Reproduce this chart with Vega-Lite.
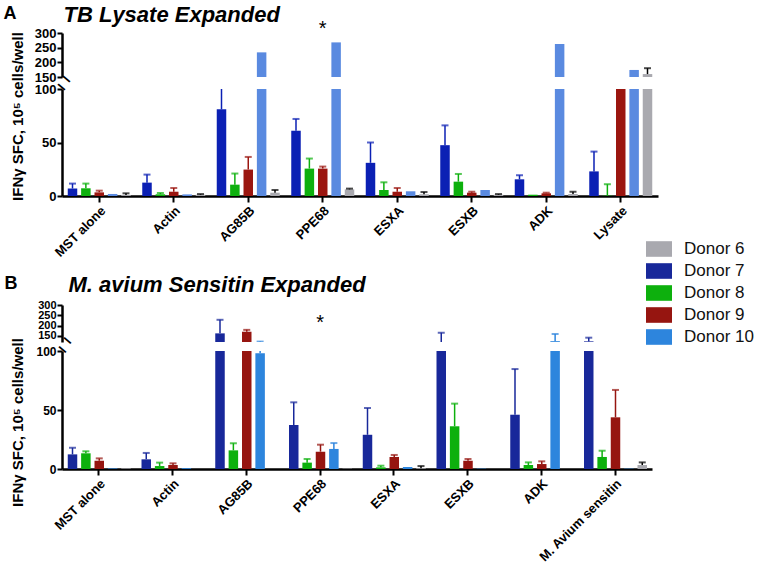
{
  "$schema": "https://vega.github.io/schema/vega-lite/v6.json",
  "background": "white",
  "padding": {"left": 3, "top": 3, "right": 0, "bottom": 0},
  "datasets": {
    "bars": [
      {"panel": "A", "antigen": "MST alone", "donor": "Donor 7", "value": 7, "err": 11.6},
      {"panel": "A", "antigen": "MST alone", "donor": "Donor 8", "value": 7.2, "err": 11.6},
      {"panel": "A", "antigen": "MST alone", "donor": "Donor 9", "value": 3.4, "err": 5},
      {"panel": "A", "antigen": "MST alone", "donor": "Donor 10", "value": 1.9, "err": null},
      {"panel": "A", "antigen": "MST alone", "donor": "Donor 6", "value": 0.9, "err": 2.5},
      {"panel": "A", "antigen": "Actin", "donor": "Donor 7", "value": 12.5, "err": 20},
      {"panel": "A", "antigen": "Actin", "donor": "Donor 8", "value": 1.6, "err": 2.8},
      {"panel": "A", "antigen": "Actin", "donor": "Donor 9", "value": 4, "err": 7.5},
      {"panel": "A", "antigen": "Actin", "donor": "Donor 10", "value": 1.5, "err": null},
      {"panel": "A", "antigen": "Actin", "donor": "Donor 6", "value": 1.2, "err": 1.8},
      {"panel": "A", "antigen": "AG85B", "donor": "Donor 7", "value": 81, "err": 102},
      {"panel": "A", "antigen": "AG85B", "donor": "Donor 8", "value": 10.6, "err": 21},
      {"panel": "A", "antigen": "AG85B", "donor": "Donor 9", "value": 24.7, "err": 36.5},
      {"panel": "A", "antigen": "AG85B", "donor": "Donor 10", "value": 234, "err": null},
      {"panel": "A", "antigen": "AG85B", "donor": "Donor 6", "value": 3.1, "err": 5.6},
      {"panel": "A", "antigen": "PPE68", "donor": "Donor 7", "value": 61, "err": 72},
      {"panel": "A", "antigen": "PPE68", "donor": "Donor 8", "value": 25.6, "err": 35},
      {"panel": "A", "antigen": "PPE68", "donor": "Donor 9", "value": 25.6, "err": 27.5},
      {"panel": "A", "antigen": "PPE68", "donor": "Donor 10", "value": 268, "err": null},
      {"panel": "A", "antigen": "PPE68", "donor": "Donor 6", "value": 6.2, "err": 6.9},
      {"panel": "A", "antigen": "ESXA", "donor": "Donor 7", "value": 31, "err": 50},
      {"panel": "A", "antigen": "ESXA", "donor": "Donor 8", "value": 5.6, "err": 12.8},
      {"panel": "A", "antigen": "ESXA", "donor": "Donor 9", "value": 4, "err": 7.5},
      {"panel": "A", "antigen": "ESXA", "donor": "Donor 10", "value": 4.4, "err": null},
      {"panel": "A", "antigen": "ESXA", "donor": "Donor 6", "value": 1.6, "err": 3.7},
      {"panel": "A", "antigen": "ESXB", "donor": "Donor 7", "value": 47.5, "err": 66},
      {"panel": "A", "antigen": "ESXB", "donor": "Donor 8", "value": 13.4, "err": 20.6},
      {"panel": "A", "antigen": "ESXB", "donor": "Donor 9", "value": 3.1, "err": 4},
      {"panel": "A", "antigen": "ESXB", "donor": "Donor 10", "value": 5.6, "err": null},
      {"panel": "A", "antigen": "ESXB", "donor": "Donor 6", "value": 1.2, "err": 1.8},
      {"panel": "A", "antigen": "ADK", "donor": "Donor 7", "value": 15.6, "err": 19.4},
      {"panel": "A", "antigen": "ADK", "donor": "Donor 8", "value": 1.2, "err": null},
      {"panel": "A", "antigen": "ADK", "donor": "Donor 9", "value": 2.5, "err": 3.1},
      {"panel": "A", "antigen": "ADK", "donor": "Donor 10", "value": 262.5, "err": null},
      {"panel": "A", "antigen": "ADK", "donor": "Donor 6", "value": 1.9, "err": 4},
      {"panel": "A", "antigen": "Lysate", "donor": "Donor 7", "value": 23, "err": 41.5},
      {"panel": "A", "antigen": "Lysate", "donor": "Donor 8", "value": 0.3, "err": 11},
      {"panel": "A", "antigen": "Lysate", "donor": "Donor 9", "value": 125, "err": null},
      {"panel": "A", "antigen": "Lysate", "donor": "Donor 10", "value": 174, "err": null},
      {"panel": "A", "antigen": "Lysate", "donor": "Donor 6", "value": 160, "err": 180},
      {"panel": "B", "antigen": "MST alone", "donor": "Donor 7", "value": 12.4, "err": 18},
      {"panel": "B", "antigen": "MST alone", "donor": "Donor 8", "value": 13.3, "err": 15},
      {"panel": "B", "antigen": "MST alone", "donor": "Donor 9", "value": 7, "err": 9},
      {"panel": "B", "antigen": "MST alone", "donor": "Donor 10", "value": 0.5, "err": null},
      {"panel": "B", "antigen": "MST alone", "donor": "Donor 6", "value": 0.5, "err": null},
      {"panel": "B", "antigen": "Actin", "donor": "Donor 7", "value": 8.2, "err": 13.6},
      {"panel": "B", "antigen": "Actin", "donor": "Donor 8", "value": 2.5, "err": 5.4},
      {"panel": "B", "antigen": "Actin", "donor": "Donor 9", "value": 3.4, "err": 4.8},
      {"panel": "B", "antigen": "Actin", "donor": "Donor 10", "value": 0.7, "err": null},
      {"panel": "B", "antigen": "Actin", "donor": "Donor 6", "value": 0, "err": null},
      {"panel": "B", "antigen": "AG85B", "donor": "Donor 7", "value": 162, "err": 228},
      {"panel": "B", "antigen": "AG85B", "donor": "Donor 8", "value": 15.8, "err": 21.8},
      {"panel": "B", "antigen": "AG85B", "donor": "Donor 9", "value": 170, "err": 179},
      {"panel": "B", "antigen": "AG85B", "donor": "Donor 10", "value": 98, "err": 122},
      {"panel": "B", "antigen": "AG85B", "donor": "Donor 6", "value": 0, "err": null},
      {"panel": "B", "antigen": "PPE68", "donor": "Donor 7", "value": 37.3, "err": 56.5},
      {"panel": "B", "antigen": "PPE68", "donor": "Donor 8", "value": 5.4, "err": 8.5},
      {"panel": "B", "antigen": "PPE68", "donor": "Donor 9", "value": 14.7, "err": 20.6},
      {"panel": "B", "antigen": "PPE68", "donor": "Donor 10", "value": 17, "err": 22},
      {"panel": "B", "antigen": "PPE68", "donor": "Donor 6", "value": 0.3, "err": null},
      {"panel": "B", "antigen": "ESXA", "donor": "Donor 7", "value": 29, "err": 51.7},
      {"panel": "B", "antigen": "ESXA", "donor": "Donor 8", "value": 1.4, "err": 2.8},
      {"panel": "B", "antigen": "ESXA", "donor": "Donor 9", "value": 10.2, "err": 11.9},
      {"panel": "B", "antigen": "ESXA", "donor": "Donor 10", "value": 1.7, "err": null},
      {"panel": "B", "antigen": "ESXA", "donor": "Donor 6", "value": 0.6, "err": 2.5},
      {"panel": "B", "antigen": "ESXB", "donor": "Donor 7", "value": 110, "err": 165},
      {"panel": "B", "antigen": "ESXB", "donor": "Donor 8", "value": 36.2, "err": 55.4},
      {"panel": "B", "antigen": "ESXB", "donor": "Donor 9", "value": 7, "err": 8.5},
      {"panel": "B", "antigen": "ESXB", "donor": "Donor 10", "value": 0.3, "err": null},
      {"panel": "B", "antigen": "ESXB", "donor": "Donor 6", "value": 0, "err": null},
      {"panel": "B", "antigen": "ADK", "donor": "Donor 7", "value": 46, "err": 84.7},
      {"panel": "B", "antigen": "ADK", "donor": "Donor 8", "value": 3.4, "err": 5.6},
      {"panel": "B", "antigen": "ADK", "donor": "Donor 9", "value": 4.2, "err": 6.5},
      {"panel": "B", "antigen": "ADK", "donor": "Donor 10", "value": 124, "err": 159},
      {"panel": "B", "antigen": "ADK", "donor": "Donor 6", "value": 0, "err": null},
      {"panel": "B", "antigen": "M. Avium sensitin", "donor": "Donor 7", "value": 123, "err": 141},
      {"panel": "B", "antigen": "M. Avium sensitin", "donor": "Donor 8", "value": 10.2, "err": 15.5},
      {"panel": "B", "antigen": "M. Avium sensitin", "donor": "Donor 9", "value": 43.8, "err": 67},
      {"panel": "B", "antigen": "M. Avium sensitin", "donor": "Donor 10", "value": 0.3, "err": null},
      {"panel": "B", "antigen": "M. Avium sensitin", "donor": "Donor 6", "value": 3.4, "err": 5.6}
    ],
    "stars": [
      {"panel": "A", "antigen": "PPE68", "y": 292},
      {"panel": "B", "antigen": "PPE68", "y": 181}
    ]
  },
  "vconcat": [
    {
      "vconcat": [
        {
          "width": 596,
          "height": 44,
          "resolve": {"scale": {"y": "independent"}, "axis": {"y": "independent"}},
          "layer": [
            {
              "data": {"name": "bars"},
              "transform": [{"filter": "datum.panel === 'A'"}],
              "encoding": {
                "x": {"field": "antigen", "type": "nominal", "sort": ["MST alone", "Actin", "AG85B", "PPE68", "ESXA", "ESXB", "ADK", "Lysate"], "scale": {"paddingInner": 0, "paddingOuter": 0}, "axis": {"orient": "top", "labels": false, "ticks": false, "domain": false, "title": "TB Lysate Expanded", "titleX": 1, "titleY": -12, "titleAlign": "left", "titleBaseline": "alphabetic", "titleFontSize": 22, "titleFontStyle": "italic"}},
                "xOffset": {"field": "donor", "type": "nominal", "sort": ["Donor 7", "Donor 8", "Donor 9", "Donor 10", "Donor 6"], "scale": {"paddingInner": 0.29, "paddingOuter": 0.43}},
                "y": {"field": "value", "type": "quantitative", "scale": {"domain": [150, 300], "nice": false, "zero": false}, "axis": {"orient": "left", "values": [150, 200, 250, 300], "title": "A", "titleAngle": 0, "titleX": -59, "titleY": -15, "titleAlign": "left", "titleBaseline": "alphabetic", "titleFontSize": 18}},
                "color": {"field": "donor", "type": "nominal", "scale": {"domain": ["Donor 6", "Donor 7", "Donor 8", "Donor 9", "Donor 10"], "range": ["#A9A9AF", "#0B20B4", "#0DB00D", "#9B1610", "#5A8AE0"]}, "legend": null}
              },
              "layer": [
                {"mark": {"type": "bar", "clip": true}},
                {
                  "transform": [{"filter": "isValid(datum.err)"}],
                  "mark": {"type": "rule", "clip": true, "strokeWidth": 1.5},
                  "encoding": {
                    "y2": {"field": "err"},
                    "color": {"condition": {"test": "datum.donor === 'Donor 6'", "value": "#000000"}, "field": "donor", "type": "nominal", "scale": {"domain": ["Donor 6", "Donor 7", "Donor 8", "Donor 9", "Donor 10"], "range": ["#A9A9AF", "#0B20B4", "#0DB00D", "#9B1610", "#5A8AE0"]}, "legend": null}
                  }
                },
                {
                  "transform": [{"filter": "isValid(datum.err)"}],
                  "mark": {"type": "tick", "clip": true, "thickness": 2, "size": 7},
                  "encoding": {
                    "y": {"field": "err", "type": "quantitative", "scale": {"domain": [150, 300], "nice": false, "zero": false}, "axis": {"orient": "left", "values": [150, 200, 250, 300], "title": "A", "titleAngle": 0, "titleX": -59, "titleY": -15, "titleAlign": "left", "titleBaseline": "alphabetic", "titleFontSize": 18}},
                    "color": {"condition": {"test": "datum.donor === 'Donor 6'", "value": "#000000"}, "field": "donor", "type": "nominal", "scale": {"domain": ["Donor 6", "Donor 7", "Donor 8", "Donor 9", "Donor 10"], "range": ["#A9A9AF", "#0B20B4", "#0DB00D", "#9B1610", "#5A8AE0"]}, "legend": null}
                  }
                }
              ]
            },
            {
              "data": {"name": "stars"},
              "transform": [{"filter": "datum.panel === 'A'"}],
              "mark": {"type": "text", "text": "*", "fontSize": 20, "baseline": "alphabetic", "color": "#000"},
              "encoding": {
                "x": {"field": "antigen", "type": "nominal", "sort": ["MST alone", "Actin", "AG85B", "PPE68", "ESXA", "ESXB", "ADK", "Lysate"], "scale": {"paddingInner": 0, "paddingOuter": 0}, "axis": {"orient": "top", "labels": false, "ticks": false, "domain": false, "title": "TB Lysate Expanded", "titleX": 1, "titleY": -12, "titleAlign": "left", "titleBaseline": "alphabetic", "titleFontSize": 22, "titleFontStyle": "italic"}},
                "y": {"field": "y", "type": "quantitative", "scale": {"domain": [150, 300], "nice": false, "zero": false}, "axis": {"orient": "right", "labels": false, "ticks": false, "domain": false, "title": "–", "titleX": -592, "titleY": 45.5, "titleAngle": 40, "titleAlign": "center", "titleBaseline": "middle", "titleFontSize": 18}}
              }
            }
          ]
        },
        {
          "width": 596,
          "height": 107,
          "data": {"name": "bars"},
          "transform": [{"filter": "datum.panel === 'A'"}],
          "encoding": {
            "x": {"field": "antigen", "type": "nominal", "sort": ["MST alone", "Actin", "AG85B", "PPE68", "ESXA", "ESXB", "ADK", "Lysate"], "scale": {"paddingInner": 0, "paddingOuter": 0}, "axis": {"orient": "bottom", "title": "–", "titleX": -1, "titleY": -109.5, "titleAngle": 40, "titleAlign": "center", "titleBaseline": "middle", "titleFontSize": 18}},
            "xOffset": {"field": "donor", "type": "nominal", "sort": ["Donor 7", "Donor 8", "Donor 9", "Donor 10", "Donor 6"], "scale": {"paddingInner": 0.29, "paddingOuter": 0.43}},
            "y": {"field": "value", "type": "quantitative", "scale": {"domain": [0, 100], "nice": false}, "axis": {"values": [0, 50, 100], "title": "IFNγ SFC, 10⁵ cells/well", "titleX": -40, "titleY": 27, "titleAngle": -90, "titleAlign": "center", "titleBaseline": "alphabetic", "titleFontSize": 15}},
            "color": {"field": "donor", "type": "nominal", "scale": {"domain": ["Donor 6", "Donor 7", "Donor 8", "Donor 9", "Donor 10"], "range": ["#A9A9AF", "#0B20B4", "#0DB00D", "#9B1610", "#5A8AE0"]}, "legend": null}
          },
          "layer": [
            {"mark": {"type": "bar", "clip": true}},
            {
              "transform": [{"filter": "isValid(datum.err)"}],
              "mark": {"type": "rule", "clip": true, "strokeWidth": 1.5},
              "encoding": {
                "y2": {"field": "err"},
                "color": {"condition": {"test": "datum.donor === 'Donor 6'", "value": "#000000"}, "field": "donor", "type": "nominal", "scale": {"domain": ["Donor 6", "Donor 7", "Donor 8", "Donor 9", "Donor 10"], "range": ["#A9A9AF", "#0B20B4", "#0DB00D", "#9B1610", "#5A8AE0"]}, "legend": null}
              }
            },
            {
              "transform": [{"filter": "isValid(datum.err)"}],
              "mark": {"type": "tick", "clip": true, "thickness": 2, "size": 7},
              "encoding": {
                "y": {"field": "err", "type": "quantitative", "scale": {"domain": [0, 100], "nice": false}, "axis": {"values": [0, 50, 100], "title": "IFNγ SFC, 10⁵ cells/well", "titleX": -40, "titleY": 27, "titleAngle": -90, "titleAlign": "center", "titleBaseline": "alphabetic", "titleFontSize": 15}},
                "color": {"condition": {"test": "datum.donor === 'Donor 6'", "value": "#000000"}, "field": "donor", "type": "nominal", "scale": {"domain": ["Donor 6", "Donor 7", "Donor 8", "Donor 9", "Donor 10"], "range": ["#A9A9AF", "#0B20B4", "#0DB00D", "#9B1610", "#5A8AE0"]}, "legend": null}
              }
            }
          ]
        }
      ],
      "spacing": 12,
      "bounds": "flush",
      "resolve": {"scale": {"x": "independent", "y": "independent"}}
    },
    {
      "vconcat": [
        {
          "width": 590,
          "height": 37,
          "resolve": {"scale": {"y": "independent"}, "axis": {"y": "independent"}},
          "layer": [
            {
              "data": {"name": "bars"},
              "transform": [{"filter": "datum.panel === 'B'"}],
              "encoding": {
                "x": {"field": "antigen", "type": "nominal", "sort": ["MST alone", "Actin", "AG85B", "PPE68", "ESXA", "ESXB", "ADK", "M. Avium sensitin"], "scale": {"paddingInner": 0, "paddingOuter": 0}, "axis": {"orient": "top", "labels": false, "ticks": false, "domain": false, "title": "M. avium Sensitin Expanded", "titleX": 6, "titleY": -14, "titleAlign": "left", "titleBaseline": "alphabetic", "titleFontSize": 22, "titleFontStyle": "italic"}},
                "xOffset": {"field": "donor", "type": "nominal", "sort": ["Donor 7", "Donor 8", "Donor 9", "Donor 10", "Donor 6"], "scale": {"paddingInner": 0.29, "paddingOuter": 0.43}},
                "y": {"field": "value", "type": "quantitative", "scale": {"domain": [120, 300], "nice": false, "zero": false}, "axis": {"orient": "left", "values": [150, 200, 250, 300], "labelFontSize": 11, "title": "B", "titleAngle": 0, "titleX": -58, "titleY": -17, "titleAlign": "left", "titleBaseline": "alphabetic", "titleFontSize": 18}},
                "color": {"field": "donor", "type": "nominal", "title": null, "scale": {"domain": ["Donor 6", "Donor 7", "Donor 8", "Donor 9", "Donor 10"], "range": ["#A9A9AF", "#18289A", "#0DB00D", "#961510", "#2D85DD"]}}
              },
              "layer": [
                {"mark": {"type": "bar", "clip": true}},
                {
                  "transform": [{"filter": "isValid(datum.err)"}],
                  "mark": {"type": "rule", "clip": true, "strokeWidth": 1.5},
                  "encoding": {
                    "y2": {"field": "err"},
                    "color": {"condition": {"test": "datum.donor === 'Donor 6'", "value": "#000000"}, "field": "donor", "type": "nominal", "title": null, "scale": {"domain": ["Donor 6", "Donor 7", "Donor 8", "Donor 9", "Donor 10"], "range": ["#A9A9AF", "#18289A", "#0DB00D", "#961510", "#2D85DD"]}}
                  }
                },
                {
                  "transform": [{"filter": "isValid(datum.err)"}],
                  "mark": {"type": "tick", "clip": true, "thickness": 2, "size": 7},
                  "encoding": {
                    "y": {"field": "err", "type": "quantitative", "scale": {"domain": [120, 300], "nice": false, "zero": false}, "axis": {"orient": "left", "values": [150, 200, 250, 300], "labelFontSize": 11, "title": "B", "titleAngle": 0, "titleX": -58, "titleY": -17, "titleAlign": "left", "titleBaseline": "alphabetic", "titleFontSize": 18}},
                    "color": {"condition": {"test": "datum.donor === 'Donor 6'", "value": "#000000"}, "field": "donor", "type": "nominal", "title": null, "scale": {"domain": ["Donor 6", "Donor 7", "Donor 8", "Donor 9", "Donor 10"], "range": ["#A9A9AF", "#18289A", "#0DB00D", "#961510", "#2D85DD"]}}
                  }
                }
              ]
            },
            {
              "data": {"name": "stars"},
              "transform": [{"filter": "datum.panel === 'B'"}],
              "mark": {"type": "text", "text": "*", "fontSize": 20, "baseline": "alphabetic", "color": "#000"},
              "encoding": {
                "x": {"field": "antigen", "type": "nominal", "sort": ["MST alone", "Actin", "AG85B", "PPE68", "ESXA", "ESXB", "ADK", "M. Avium sensitin"], "scale": {"paddingInner": 0, "paddingOuter": 0}, "axis": {"orient": "top", "labels": false, "ticks": false, "domain": false, "title": "M. avium Sensitin Expanded", "titleX": 6, "titleY": -14, "titleAlign": "left", "titleBaseline": "alphabetic", "titleFontSize": 22, "titleFontStyle": "italic"}},
                "y": {"field": "y", "type": "quantitative", "scale": {"domain": [120, 300], "nice": false, "zero": false}, "axis": {"orient": "right", "labels": false, "ticks": false, "domain": false, "title": "–", "titleX": -585, "titleY": 35, "titleAngle": 40, "titleAlign": "center", "titleBaseline": "middle", "titleFontSize": 18}}
              }
            }
          ]
        },
        {
          "width": 590,
          "height": 118,
          "data": {"name": "bars"},
          "transform": [{"filter": "datum.panel === 'B'"}],
          "encoding": {
            "x": {"field": "antigen", "type": "nominal", "sort": ["MST alone", "Actin", "AG85B", "PPE68", "ESXA", "ESXB", "ADK", "M. Avium sensitin"], "scale": {"paddingInner": 0, "paddingOuter": 0}, "axis": {"orient": "bottom", "title": "–", "titleX": 0, "titleY": -120, "titleAngle": 40, "titleAlign": "center", "titleBaseline": "middle", "titleFontSize": 18}},
            "xOffset": {"field": "donor", "type": "nominal", "sort": ["Donor 7", "Donor 8", "Donor 9", "Donor 10", "Donor 6"], "scale": {"paddingInner": 0.29, "paddingOuter": 0.43}},
            "y": {"field": "value", "type": "quantitative", "scale": {"domain": [0, 100], "nice": false}, "axis": {"values": [0, 50, 100], "labelFontSize": 12, "title": "IFNγ SFC, 10⁵ cells/well", "titleX": -40, "titleY": 71, "titleAngle": -90, "titleAlign": "center", "titleBaseline": "alphabetic", "titleFontSize": 15}},
            "color": {"field": "donor", "type": "nominal", "title": null, "scale": {"domain": ["Donor 6", "Donor 7", "Donor 8", "Donor 9", "Donor 10"], "range": ["#A9A9AF", "#18289A", "#0DB00D", "#961510", "#2D85DD"]}}
          },
          "layer": [
            {"mark": {"type": "bar", "clip": true}},
            {
              "transform": [{"filter": "isValid(datum.err)"}],
              "mark": {"type": "rule", "clip": true, "strokeWidth": 1.5},
              "encoding": {
                "y2": {"field": "err"},
                "color": {"condition": {"test": "datum.donor === 'Donor 6'", "value": "#000000"}, "field": "donor", "type": "nominal", "title": null, "scale": {"domain": ["Donor 6", "Donor 7", "Donor 8", "Donor 9", "Donor 10"], "range": ["#A9A9AF", "#18289A", "#0DB00D", "#961510", "#2D85DD"]}}
              }
            },
            {
              "transform": [{"filter": "isValid(datum.err)"}],
              "mark": {"type": "tick", "clip": true, "thickness": 2, "size": 7},
              "encoding": {
                "y": {"field": "err", "type": "quantitative", "scale": {"domain": [0, 100], "nice": false}, "axis": {"values": [0, 50, 100], "labelFontSize": 12, "title": "IFNγ SFC, 10⁵ cells/well", "titleX": -40, "titleY": 71, "titleAngle": -90, "titleAlign": "center", "titleBaseline": "alphabetic", "titleFontSize": 15}},
                "color": {"condition": {"test": "datum.donor === 'Donor 6'", "value": "#000000"}, "field": "donor", "type": "nominal", "title": null, "scale": {"domain": ["Donor 6", "Donor 7", "Donor 8", "Donor 9", "Donor 10"], "range": ["#A9A9AF", "#18289A", "#0DB00D", "#961510", "#2D85DD"]}}
              }
            }
          ]
        }
      ],
      "spacing": 9,
      "bounds": "flush",
      "resolve": {"scale": {"x": "independent", "y": "independent"}}
    }
  ],
  "spacing": 272,
  "bounds": "flush",
  "resolve": {"scale": {"color": "independent"}},
  "config": {
    "view": {"stroke": null},
    "font": "Liberation Sans",
    "axis": {
      "grid": false,
      "labelFont": "Liberation Sans",
      "labelFontWeight": "bold",
      "labelColor": "#000",
      "labelFontSize": 13,
      "labelPadding": 1,
      "labelOverlap": false,
      "domainColor": "#000",
      "domainWidth": 2.5,
      "tickColor": "#000",
      "tickWidth": 2,
      "tickSize": 5,
      "titleFont": "Liberation Sans",
      "titleFontWeight": "bold",
      "titleColor": "#000"
    },
    "axisX": {"labelAngle": -45, "tickSize": 6, "labelPadding": 2},
    "legend": {
      "orient": "none",
      "legendX": 584,
      "legendY": -69,
      "symbolType": "M-1,-0.6H1V0.6H-1Z",
      "symbolSize": 676,
      "symbolStrokeWidth": 0,
      "symbolOpacity": 1,
      "labelFont": "Liberation Sans",
      "labelFontSize": 17,
      "labelColor": "#111",
      "labelOffset": 12,
      "rowPadding": 1,
      "padding": 0
    }
  }
}
